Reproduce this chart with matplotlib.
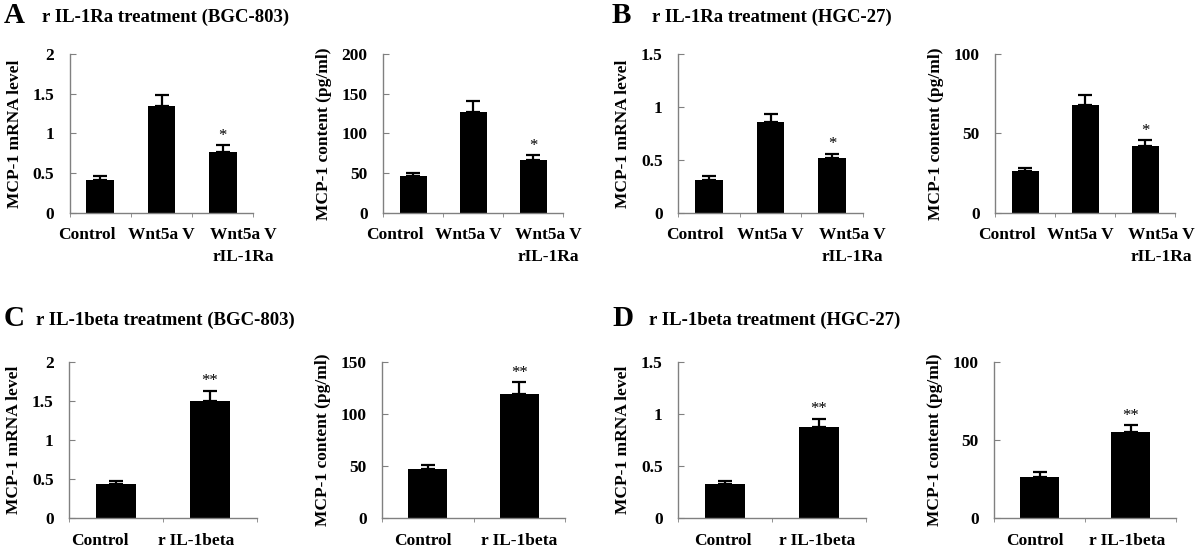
import numpy as np
import matplotlib
matplotlib.use("Agg")
import matplotlib.pyplot as plt
from matplotlib.ticker import FormatStrFormatter

plt.rcParams['font.family'] = ['Liberation Serif', 'DejaVu Serif']
plt.rcParams['font.weight'] = 'bold'

# category labels
cats_ra = ["Control", "Wnt5a V", "Wnt5a V\nrIL-1Ra"]
cats_beta = ["Control", "r IL-1beta"]

# A: r IL-1Ra treatment (BGC-803)
a_mrna = [0.42, 1.34, 0.77]
a_mrna_err = [0.04, 0.15, 0.085]
a_cont = [46.7, 127.6, 66.5]
a_cont_err = [3.3, 13.4, 5.9]
# B: r IL-1Ra treatment (HGC-27)
b_mrna = [0.316, 0.859, 0.518]
b_mrna_err = [0.031, 0.079, 0.041]
b_cont = [26.5, 68.0, 42.1]
b_cont_err = [1.9, 6.3, 3.8]
# C: r IL-1beta treatment (BGC-803)
c_mrna = [0.435, 1.50]
c_mrna_err = [0.043, 0.13]
c_cont = [47.3, 119.0]
c_cont_err = [3.2, 11.5]
# D: r IL-1beta treatment (HGC-27)
d_mrna = [0.323, 0.876]
d_mrna_err = [0.035, 0.08]
d_cont = [26.4, 55.2]
d_cont_err = [3.0, 4.1]

ra_stars = ["", "", "*"]
beta_stars = ["", "**"]

mrna_label = "MCP-1 mRNA level"
cont_label = "MCP-1 content (pg/ml)"

fig = plt.figure(figsize=(12, 5.48), dpi=100)
W, H = 1200.0, 548.0


def make_axes(x0, x1, ytop, ybot):
    return fig.add_axes([x0 / W, 1 - ybot / H, (x1 - x0) / W, (ybot - ytop) / H])


def bar_panel(ax, cats, vals, errs, stars, ymax, ystep, ylabel, width, label_pos, xpad):
    x = np.arange(len(cats))
    ax.bar(x, vals, width=width, color='black', zorder=2)
    ax.errorbar(x, vals, yerr=[np.zeros(len(vals)), errs], fmt='none',
                ecolor='black', elinewidth=1.6, capsize=4.7, capthick=1.6, zorder=3)
    for xi, v, e, s in zip(x, vals, errs, stars):
        if s:
            ax.annotate(s, (xi, v + e), xytext=(0, 1), textcoords='offset points',
                        ha='center', va='bottom', fontsize=12, fontweight='normal')
    ax.set_xlim(-0.5, len(cats) - 0.5)
    ax.set_ylim(0, ymax)
    ax.set_yticks(np.arange(0, ymax + ystep / 2, ystep))
    ax.yaxis.set_major_formatter(FormatStrFormatter('%g'))
    # labels sit where the original put them (not exactly under the bars)
    ax.set_xticks(label_pos)
    ax.set_xticklabels(cats, linespacing=1.5)
    ax.set_xticks(np.arange(len(cats) + 1) - 0.5, minor=True)
    ax.tick_params(axis='x', which='major', length=0, pad=xpad, labelsize=12.5)
    ax.tick_params(axis='x', which='minor', length=3, direction='out', color='#808080')
    ax.tick_params(axis='y', direction='in', length=4, color='#808080', pad=11, labelsize=12.5)
    for side in ['top', 'right']:
        ax.spines[side].set_visible(False)
    for side in ['left', 'bottom']:
        ax.spines[side].set_color('#808080')
        ax.spines[side].set_linewidth(1.0)
    ax.set_ylabel(ylabel, fontsize=12.5, fontweight='bold', labelpad=7)


# top row
ax = make_axes(69.5, 253.5, 54, 213)
bar_panel(ax, cats_ra, a_mrna, a_mrna_err, ra_stars, 2, 0.5, mrna_label, 0.45,
          [-0.22, 1.0, 2.33], 10)
ax = make_axes(383, 563, 54, 213)
bar_panel(ax, cats_ra, a_cont, a_cont_err, ra_stars, 200, 50, cont_label, 0.45,
          [-0.31, 0.92, 2.25], 10)
ax = make_axes(678, 863, 54, 213)
bar_panel(ax, cats_ra, b_mrna, b_mrna_err, ra_stars, 1.5, 0.5, mrna_label, 0.45,
          [-0.22, 1.0, 2.33], 10)
ax = make_axes(995, 1175, 54, 213)
bar_panel(ax, cats_ra, b_cont, b_cont_err, ra_stars, 100, 50, cont_label, 0.45,
          [-0.31, 0.92, 2.27], 10)

# bottom row
ax = make_axes(69, 257, 362, 518)
bar_panel(ax, cats_beta, c_mrna, c_mrna_err, beta_stars, 2, 0.5, mrna_label, 0.43,
          [-0.17, 0.85], 11)
ax = make_axes(382, 565, 362, 518)
bar_panel(ax, cats_beta, c_cont, c_cont_err, beta_stars, 150, 50, cont_label, 0.43,
          [-0.05, 1.0], 11)
ax = make_axes(678, 866, 362, 518)
bar_panel(ax, cats_beta, d_mrna, d_mrna_err, beta_stars, 1.5, 0.5, mrna_label, 0.43,
          [-0.02, 0.98], 11)
ax = make_axes(994, 1176, 362, 518)
bar_panel(ax, cats_beta, d_cont, d_cont_err, beta_stars, 100, 50, cont_label, 0.43,
          [-0.05, 0.96], 11)

# panel letters and titles
panels = [("A", "r IL-1Ra treatment (BGC-803)", 4, 42, 23),
          ("B", "r IL-1Ra treatment (HGC-27)", 612, 652, 23),
          ("C", "r IL-1beta treatment (BGC-803)", 4, 36, 326),
          ("D", "r IL-1beta treatment (HGC-27)", 612, 649, 326)]
for letter, title, lx, tx, by in panels:
    fig.text(lx / W, 1 - by / H, letter, fontsize=21, fontweight='bold', va='baseline')
    fig.text(tx / W, 1 - (by - 1) / H, title, fontsize=13.5, fontweight='bold', va='baseline')

fig.savefig("out.png", dpi=100)
